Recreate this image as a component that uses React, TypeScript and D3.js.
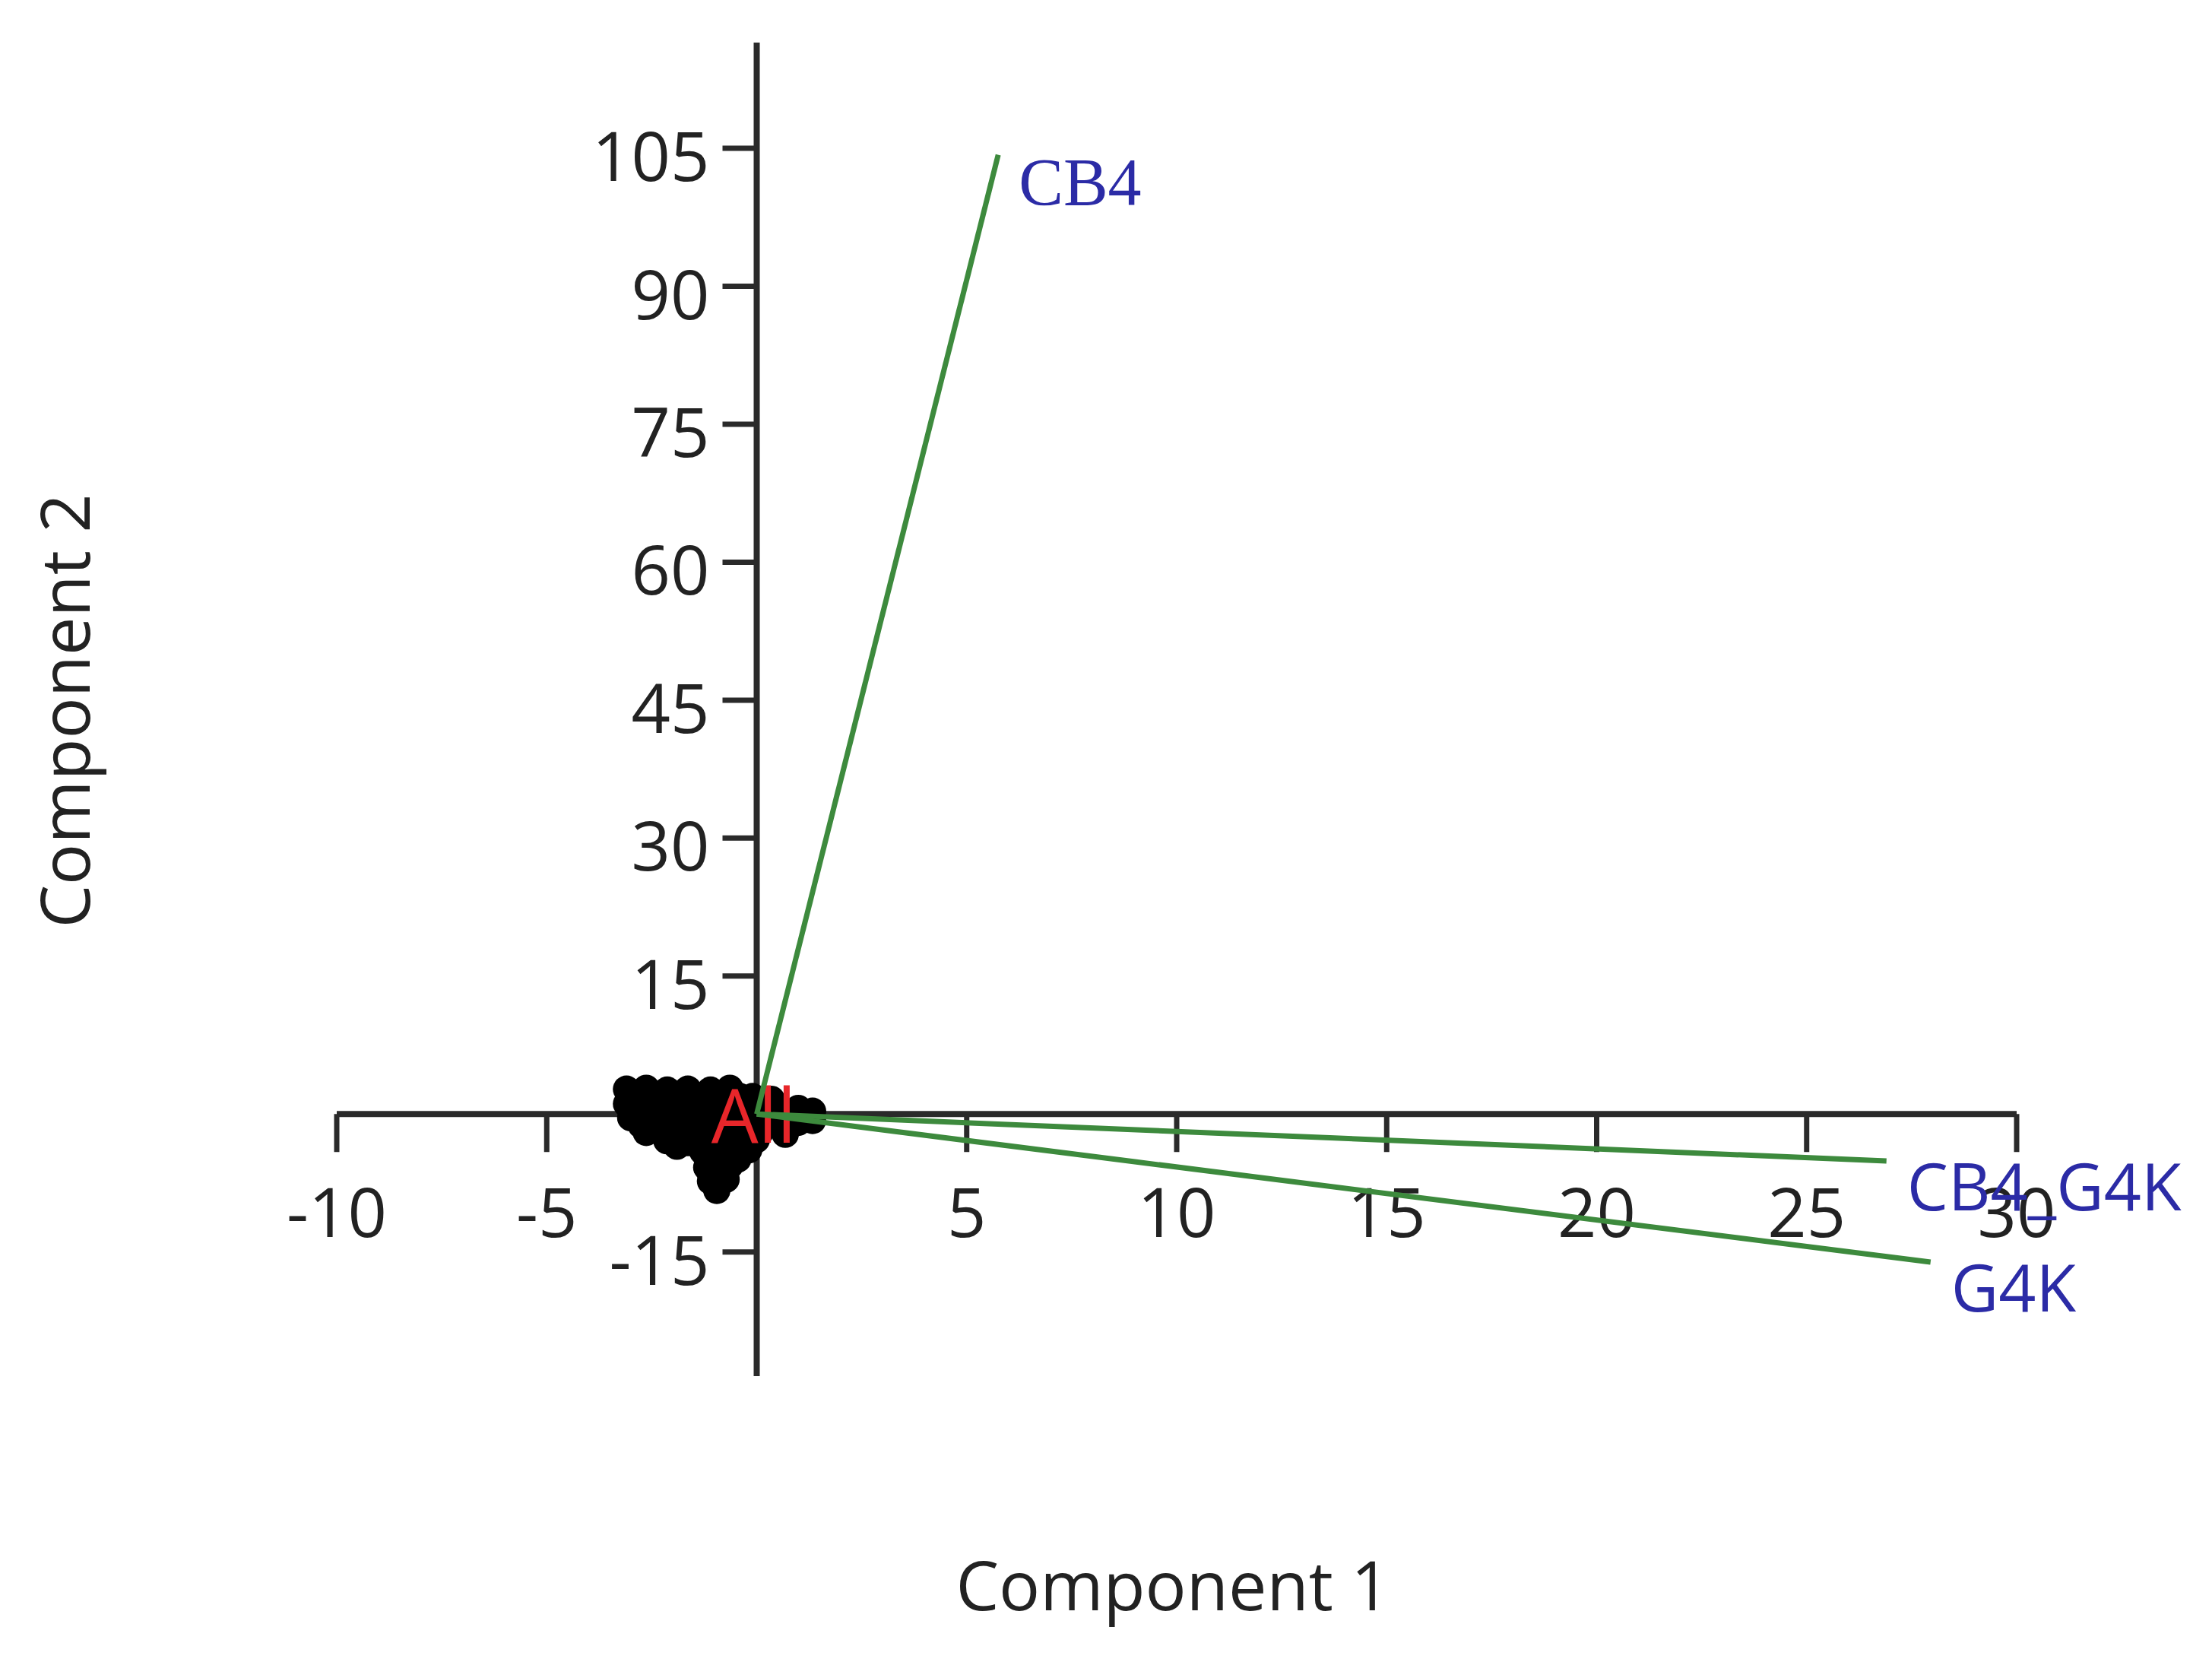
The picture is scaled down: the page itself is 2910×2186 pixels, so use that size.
import React from "react";
import * as d3 from "d3";

// ---- data ----
const scoreX = [
  -3.1, -2.63, -2.13, -1.64, -1.1, -0.64,
  -2.85, -2.35, -1.85, -1.35, -0.85, -0.4,
  -0.1, 0.35,
  -3.1, -2.54, -1.91, -1.37, -0.82, -0.19, 0.44, 0.99, 1.33,
  -2.8, -2.2, -1.6, -1.05, -0.45, 0.15, 0.7,
  -3.0, -2.45, -1.82, -1.28, -0.73, -0.1, 0.44, 0.99, 1.33,
  -2.75, -2.2, -1.6, -1.05, -0.45, 0.15,
  -2.63, -2.09, -1.55, -1.0, -0.46, 0.08, 0.68, 0.75,
  -2.14, -1.64, -1.1, -0.55, -0.01,
  -1.9, -1.35, -0.8, -0.3,
  -1.28, -0.73, -0.19,
  -1.0, -0.45,
  -1.19, -0.64,
  -0.95,
  -1.1, -0.73,
  -0.95,
];
const scoreY = [
  2.7, 2.8, 2.6, 2.7, 2.6, 2.8,
  1.9, 1.8, 2.0, 1.9, 1.8, 1.9,
  1.9, 1.6,
  1.1, 1.0, 1.2, 0.9, 1.1, 1.0, 0.8, 0.6, 0.3,
  0.3, 0.2, 0.4, 0.3, 0.2, 0.3, 0.1,
  -0.4, -0.6, -0.3, -0.5, -0.4, -0.5, -0.6, -0.9, -0.7,
  -1.2, -1.3, -1.1, -1.2, -1.3, -1.1,
  -2.0, -2.2, -1.9, -2.1, -2.3, -2.0, -2.2, -1.3,
  -2.9, -3.1, -2.8, -3.0, -2.8,
  -3.5, -3.6, -3.4, -3.5,
  -4.1, -4.3, -3.9,
  -5.0, -4.9,
  -5.8, -5.6,
  -6.5,
  -7.3, -7.1,
  -8.3,
];

const vectorNames = ["CB4", "CB4_G4K", "G4K"];
const vectorX = [5.75, 26.9, 27.95];
const vectorY = [104.3, -5.1, -16.1];

const xTicks = [-10, -5, 5, 10, 15, 20, 25, 30];
const yTicks = [-15, 15, 30, 45, 60, 75, 90, 105];
const xDomain = [-10, 30];
const yDomain = [-28.5, 116.5];

const W = 2910;
const H = 2186;
const SANS = "'Open Sans', 'Noto Sans', sans-serif";

export default function App() {
  const x = d3.scaleLinear().domain(xDomain).range([443, 2653]);
  const y = d3.scaleLinear().domain(yDomain).range([1810, 56]);
  const x0 = x(0);
  const y0 = y(0);
  const axisColor = "#2a2a2a";
  const labelColor = "#2b2ba6";
  const line = d3.line<[number, number]>().x((d) => x(d[0])).y((d) => y(d[1]));

  return (
    <svg
      width={W}
      height={H}
      style={{ position: "absolute", left: 0, top: 0, background: "#fff" }}
    >
      <rect width={W} height={H} fill="#fff" />
      {/* axes */}
      <line x1={x(xDomain[0])} x2={x(xDomain[1])} y1={y0} y2={y0} stroke={axisColor} strokeWidth={8} />
      <line x1={x0} x2={x0} y1={y(yDomain[0])} y2={y(yDomain[1])} stroke={axisColor} strokeWidth={8} />
      {xTicks.map((t) => (
        <g key={"xt" + t}>
          <line x1={x(t)} x2={x(t)} y1={y0} y2={y0 + 50} stroke={axisColor} strokeWidth={7} />
          <text
            x={x(t)}
            y={y0 + 162}
            textAnchor="middle"
            fontFamily={SANS}
            fontSize={90}
            fill="#222"
          >
            {t}
          </text>
        </g>
      ))}
      {yTicks.map((t) => (
        <g key={"yt" + t}>
          <line x1={x0 - 45} x2={x0} y1={y(t)} y2={y(t)} stroke={axisColor} strokeWidth={7} />
          <text
            x={x0 - 62}
            y={y(t) + 43}
            textAnchor="end"
            fontFamily={SANS}
            fontSize={90}
            fill="#222"
          >
            {t}
          </text>
        </g>
      ))}

      {/* points */}
      {scoreX.map((v, i) => (
        <circle key={"p" + i} cx={x(v)} cy={y(scoreY[i])} r={18} fill="#000" />
      ))}

      {/* group label */}
      <text
        x={x0 - 4}
        y={y0 + 38}
        textAnchor="middle"
        fontFamily={SANS}
        fontSize={98}
        fill="#e8262a"
      >
        All
      </text>

      {/* vectors */}
      {vectorNames.map((n, i) => (
        <g key={"v" + n}>
          <path
            d={line([[0, 0], [vectorX[i], vectorY[i]]]) || ""}
            stroke="#3d8a3d"
            strokeWidth={7}
            fill="none"
          />
          <text
            x={x(vectorX[i]) + 27}
            y={y(vectorY[i]) + 65}
            fontFamily={n === "CB4" ? "'Liberation Serif', serif" : SANS}
            fontSize={n === "CB4" ? 88 : 86}
            fill={labelColor}
          >
            {n}
          </text>
        </g>
      ))}

      {/* axis titles */}
      <text x={1543} y={2118} textAnchor="middle" fontFamily={SANS} fontSize={90} fill="#222">
        Component 1
      </text>
      <text
        transform={`translate(118, 935) rotate(-90)`}
        textAnchor="middle"
        fontFamily={SANS}
        fontSize={90}
        fill="#222"
      >
        Component 2
      </text>
    </svg>
  );
}
